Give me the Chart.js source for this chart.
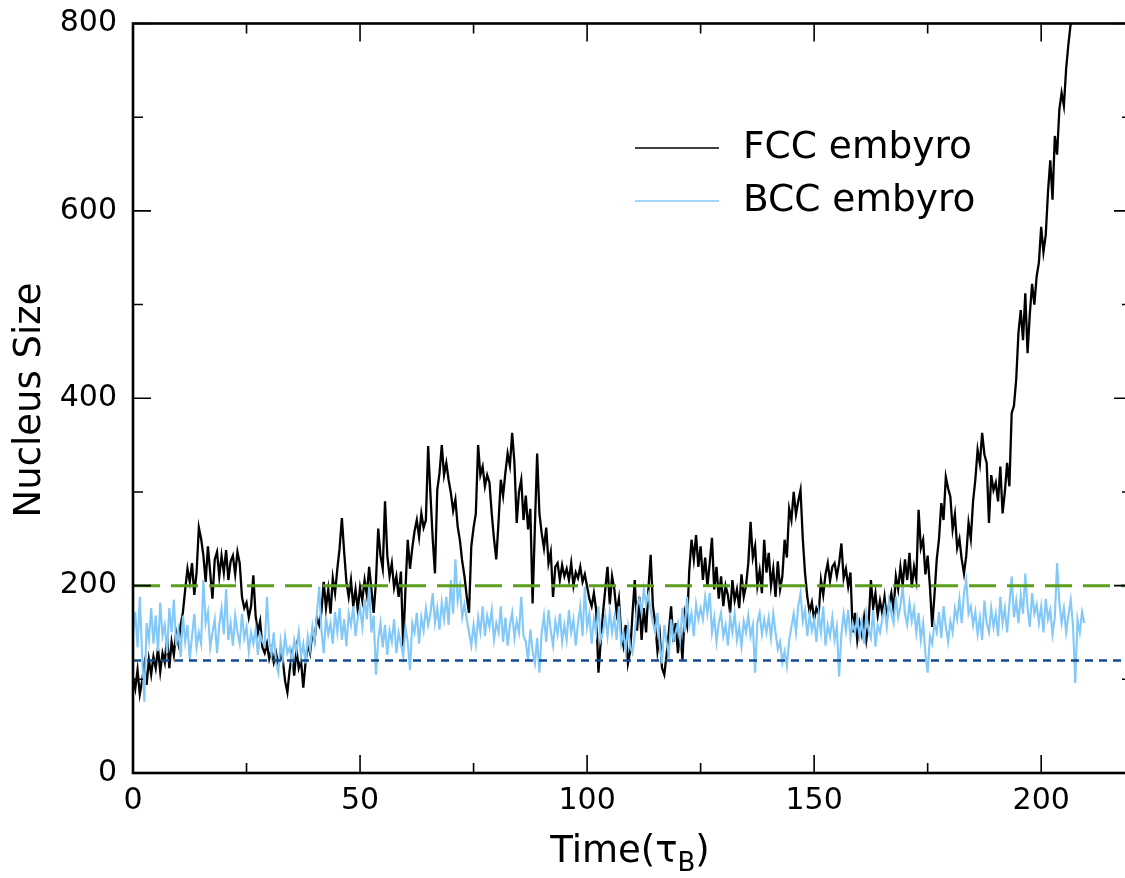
<!DOCTYPE html>
<html lang="en">
    <head>
        <meta charset="UTF-8">
        <title>Nucleus Size vs Time</title>
        <script src="https://cdn.jsdelivr.net/npm/chart.js"></script>
        <style>
            html, body {
                margin: 0;
                padding: 0;
                background: #ffffff;
                overflow: hidden;
            }

            #chart {
                display: block;
            }
        </style>
    </head>
    <body>
        <canvas id="chart" width="1135" height="878"></canvas>

        <script>
            // time between samples, in tau_B
            const timeStep = 0.5;

            // FCC embryo size, t = 0 .. 206.5
            const fccSize = [
                102, 90, 110, 84, 98, 116, 94, 121, 105, 124,
                112, 133, 108, 128, 118, 146, 112, 140, 126, 150,
                138, 158, 172, 196, 218, 204, 224, 190, 214, 262,
                250, 232, 204, 242, 214, 186, 228, 236, 210, 232,
                214, 238, 206, 226, 232, 212, 236, 224, 188, 176,
                182, 166, 178, 211, 168, 150, 162, 134, 128, 138,
                122, 132, 118, 128, 115, 126, 120, 98, 86, 110,
                126, 104, 132, 112, 120, 91, 118, 138, 128, 150,
                142, 166, 158, 172, 204, 176, 196, 170, 208, 192,
                218, 240, 272, 236, 204, 188, 206, 178, 196, 174,
                198, 184, 206, 190, 220, 196, 171, 204, 261, 232,
                218, 290, 232, 210, 224, 198, 210, 188, 215, 135,
                196, 249, 218, 240, 258, 270, 252, 277, 262, 270,
                349, 298, 250, 213, 302, 320, 350, 318, 331, 313,
                299, 280, 292, 263, 248, 226, 210, 188, 171, 242,
                262, 277, 350, 318, 327, 306, 318, 310, 277, 250,
                228, 268, 313, 296, 320, 341, 328, 363, 331, 267,
                300, 313, 270, 296, 260, 282, 181, 262, 341, 277,
                256, 240, 262, 224, 236, 188, 220, 224, 206, 222,
                210, 218, 206, 224, 200, 214, 208, 220, 204, 212,
                199, 186, 178, 192, 174, 107, 140, 171, 196, 220,
                180, 210, 196, 171, 186, 150, 136, 158, 117, 130,
                170, 206, 152, 188, 142, 176, 150, 196, 233, 178,
                160, 130, 148, 112, 105, 126, 150, 178, 140, 160,
                128, 152, 121, 170, 158, 216, 249, 228, 254, 220,
                242, 206, 230, 199, 224, 251, 196, 220, 186, 210,
                178, 200, 190, 171, 206, 184, 196, 176, 212, 188,
                200, 224, 268, 230, 242, 200, 216, 192, 249, 214,
                235, 200, 218, 188, 226, 196, 210, 249, 230, 282,
                270, 300, 276, 290, 302, 250, 213, 188, 172, 182,
                164, 176, 170, 206, 190, 212, 224, 205, 220, 224,
                210, 224, 245, 208, 218, 199, 214, 150, 171, 142,
                160, 148, 166, 142, 160, 206, 176, 192, 168, 184,
                170, 188, 164, 180, 192, 174, 210, 196, 220, 200,
                228, 206, 235, 198, 220, 206, 281, 240, 249, 212,
                232, 199, 156, 190, 228, 250, 288, 270, 316, 304,
                295, 260, 276, 240, 250, 228, 213, 232, 267, 250,
                290, 313, 345, 330, 363, 340, 331, 267, 318, 302,
                310, 290, 327, 277, 300, 331, 306, 384, 392, 420,
                470, 494, 462, 512, 448, 490, 522, 500, 530, 545,
                583, 556, 574, 620, 654, 612, 680, 660, 708, 726,
                712, 752, 778, 800
            ];

            // BCC embryo size, t = 0 .. 209.5
            const bccSize = [
                150, 172, 134, 188, 126, 76, 160, 142, 176, 138,
                168, 130, 182, 146, 158, 128, 176, 150, 185, 136,
                152, 124, 168, 140, 158, 121, 146, 170, 134, 150,
                138, 206, 160, 172, 134, 150, 164, 128, 158, 176,
                148, 196, 142, 160, 136, 168, 150, 138, 170, 144,
                156, 130, 150, 138, 154, 126, 148, 140, 136, 188,
                142, 126, 150, 118, 107, 140, 122, 146, 128, 134,
                118, 142, 130, 150, 124, 138, 117, 146, 132, 156,
                140, 170, 199, 152, 128, 166, 148, 160, 138, 172,
                150, 176, 142, 164, 135, 170, 158, 178, 146, 166,
                176, 156, 186, 164, 199, 150, 168, 105, 142, 160,
                134, 158, 126, 152, 140, 164, 128, 150, 138, 125,
                156, 140, 110, 160, 150, 171, 138, 166, 152, 176,
                158, 170, 192, 160, 176, 153, 182, 164, 188, 158,
                206, 170, 228, 184, 199, 166, 180, 164, 150, 136,
                158, 138, 166, 150, 178, 146, 168, 156, 174, 142,
                160, 150, 178, 140, 166, 136, 158, 171, 144, 162,
                150, 188, 146, 140, 120, 153, 130, 117, 144, 107,
                150, 168, 140, 174, 152, 136, 162, 148, 170, 140,
                158, 142, 174, 150, 164, 136, 160, 178, 146, 199,
                156, 170, 138, 164, 150, 178, 142, 150, 168, 146,
                172, 150, 166, 142, 178, 138, 150, 130, 156, 134,
                128, 148, 178, 186, 171, 196, 180, 190, 174, 160,
                150, 171, 136, 117, 158, 140, 125, 164, 142, 150,
                160, 142, 176, 150, 188, 158, 170, 146, 180, 164,
                176, 164, 188, 170, 192, 150, 166, 140, 160, 171,
                146, 158, 136, 166, 150, 170, 142, 156, 135, 162,
                150, 168, 146, 158, 107, 160, 171, 148, 164, 150,
                166, 144, 170, 150, 132, 140, 118, 130, 114, 142,
                156, 170, 150, 178, 192, 162, 174, 146, 168, 152,
                164, 140, 170, 150, 178, 136, 158, 146, 166, 142,
                156, 103, 148, 170, 152, 174, 144, 160, 150, 166,
                146, 162, 138, 170, 152, 144, 174, 135, 158, 150,
                164, 176, 156, 184, 170, 160, 188, 166, 178, 199,
                170, 158, 182, 162, 176, 150, 171, 142, 160, 128,
                107, 146, 138, 160, 150, 172, 144, 178, 156, 140,
                162, 150, 176, 164, 186, 160, 192, 206, 170, 178,
                158, 172, 148, 166, 142, 184, 160, 150, 176, 156,
                170, 146, 188, 160, 176, 150, 180, 210, 166, 184,
                160, 190, 170, 213, 176, 156, 192, 170, 180, 160,
                178, 150, 186, 164, 174, 148, 166, 224, 182, 160,
                176, 150, 168, 185, 158, 96, 164, 150, 172, 160
            ];

            const seriesNames = ['FCC embyro', 'BCC embyro'];
            const criticalSize = 200;   // green dashed line
            const bccMeanLow = 120;     // blue dotted line
            const timeRange = [0, 220];
            const sizeRange = [0, 800];

            const xMajorTicks = [0, 50, 100, 150, 200];
            const xMinorTicks = [25, 75, 125, 175];
            const yMajorTicks = [0, 200, 400, 600, 800];
            const yMinorTicks = [100, 300, 500, 700];

            const FONT = '"DejaVu Sans", sans-serif';

            function toPoints(values) {
                return values.map((v, i) => ({ x: i * timeStep, y: v }));
            }

            function flatLine(level) {
                return [{ x: timeRange[0], y: level }, { x: timeRange[1], y: level }];
            }

            // frame, inward ticks, legend and axis titles (matplotlib look)
            const framePlugin = {
                id: 'frame',
                afterDraw(chart) {
                    const ctx = chart.ctx;
                    const area = chart.chartArea;
                    const xs = chart.scales.x;
                    const ys = chart.scales.y;

                    ctx.save();
                    ctx.strokeStyle = '#000000';
                    ctx.lineWidth = 1.6;
                    ctx.beginPath();
                    xMajorTicks.forEach(v => {
                        const px = xs.getPixelForValue(v);
                        ctx.moveTo(px, area.bottom); ctx.lineTo(px, area.bottom - 18);
                        ctx.moveTo(px, area.top); ctx.lineTo(px, area.top + 18);
                    });
                    xMinorTicks.forEach(v => {
                        const px = xs.getPixelForValue(v);
                        ctx.moveTo(px, area.bottom); ctx.lineTo(px, area.bottom - 10);
                        ctx.moveTo(px, area.top); ctx.lineTo(px, area.top + 10);
                    });
                    yMajorTicks.forEach(v => {
                        const py = ys.getPixelForValue(v);
                        ctx.moveTo(area.left, py); ctx.lineTo(area.left + 18, py);
                        ctx.moveTo(area.right, py); ctx.lineTo(area.right - 18, py);
                    });
                    yMinorTicks.forEach(v => {
                        const py = ys.getPixelForValue(v);
                        ctx.moveTo(area.left, py); ctx.lineTo(area.left + 10, py);
                        ctx.moveTo(area.right, py); ctx.lineTo(area.right - 10, py);
                    });
                    ctx.stroke();

                    ctx.lineWidth = 2.6;
                    ctx.strokeRect(area.left, area.top, area.right - area.left, area.bottom - area.top);

                    // legend
                    const legendX = 635, legendY = 148, legendGap = 53;
                    ctx.font = '37.5px ' + FONT;
                    ctx.textAlign = 'left';
                    ctx.textBaseline = 'middle';
                    seriesNames.forEach((name, i) => {
                        const ds = chart.data.datasets[i];
                        const y = legendY + i * legendGap;
                        ctx.strokeStyle = ds.borderColor;
                        ctx.lineWidth = 1.5;
                        ctx.beginPath();
                        ctx.moveTo(legendX, y);
                        ctx.lineTo(legendX + 84, y);
                        ctx.stroke();
                        ctx.fillStyle = '#000000';
                        ctx.fillText(name, legendX + 108, y);
                    });

                    // y title
                    ctx.save();
                    ctx.translate(30, 400);
                    ctx.rotate(-Math.PI / 2);
                    ctx.textAlign = 'center';
                    ctx.textBaseline = 'middle';
                    ctx.font = '37px ' + FONT;
                    ctx.fillText('Nucleus Size', 0, 0);
                    ctx.restore();

                    // x title with subscript B
                    const bigFont = '37px ' + FONT;
                    const subFont = '26px ' + FONT;
                    ctx.textBaseline = 'alphabetic';
                    ctx.font = bigFont;
                    const w1 = ctx.measureText('Time(τ').width;
                    const w3 = ctx.measureText(')').width;
                    ctx.font = subFont;
                    const w2 = ctx.measureText('B').width;
                    let tx = 630 - (w1 + w2 + w3) / 2;
                    const baseY = 862;
                    ctx.font = bigFont;
                    ctx.fillText('Time(τ', tx, baseY);
                    tx += w1;
                    ctx.font = subFont;
                    ctx.fillText('B', tx, baseY + 9);
                    tx += w2;
                    ctx.font = bigFont;
                    ctx.fillText(')', tx, baseY);
                    ctx.restore();
                }
            };

            const ctx = document.getElementById('chart').getContext('2d');

            new Chart(ctx, {
                type: 'line',
                data: {
                    datasets: [
                        {
                            label: seriesNames[0],
                            data: toPoints(fccSize),
                            borderColor: '#000000',
                            borderWidth: 2.3,
                            pointRadius: 0,
                            order: 2
                        },
                        {
                            label: seriesNames[1],
                            data: toPoints(bccSize),
                            borderColor: '#82c8f8',
                            borderWidth: 2.1,
                            pointRadius: 0,
                            order: 1
                        },
                        {
                            label: 'critical',
                            data: flatLine(criticalSize),
                            borderColor: '#5a9e1c',
                            borderWidth: 3,
                            borderDash: [27, 11],
                            pointRadius: 0,
                            order: 0
                        },
                        {
                            label: 'low',
                            data: flatLine(bccMeanLow),
                            borderColor: '#124a8c',
                            borderWidth: 2.5,
                            borderDash: [8, 6],
                            pointRadius: 0,
                            order: 0
                        }
                    ]
                },
                options: {
                    responsive: false,
                    animation: false,
                    events: [],
                    layout: {
                        padding: { left: 0, top: 23.5, right: 3, bottom: 0 }
                    },
                    plugins: {
                        legend: { display: false },
                        tooltip: { enabled: false }
                    },
                    scales: {
                        x: {
                            type: 'linear',
                            min: timeRange[0],
                            max: timeRange[1],
                            grid: { display: false, drawTicks: false },
                            border: { display: false },
                            ticks: {
                                stepSize: 50,
                                includeBounds: false,
                                maxRotation: 0,
                                padding: 10,
                                color: '#000000',
                                font: { family: FONT, size: 30 }
                            },
                            afterFit: scale => {
                                scale.height = 105;
                                scale.paddingLeft = 0;
                                scale.paddingRight = 0;
                            }
                        },
                        y: {
                            min: sizeRange[0],
                            max: sizeRange[1],
                            grid: { display: false, drawTicks: false },
                            border: { display: false },
                            ticks: {
                                stepSize: 200,
                                padding: 16,
                                color: '#000000',
                                font: { family: FONT, size: 30 }
                            },
                            afterFit: scale => {
                                scale.width = 133;
                                scale.paddingTop = 0;
                                scale.paddingBottom = 0;
                            }
                        }
                    }
                },
                plugins: [framePlugin]
            });
        </script>
    </body>
</html>
